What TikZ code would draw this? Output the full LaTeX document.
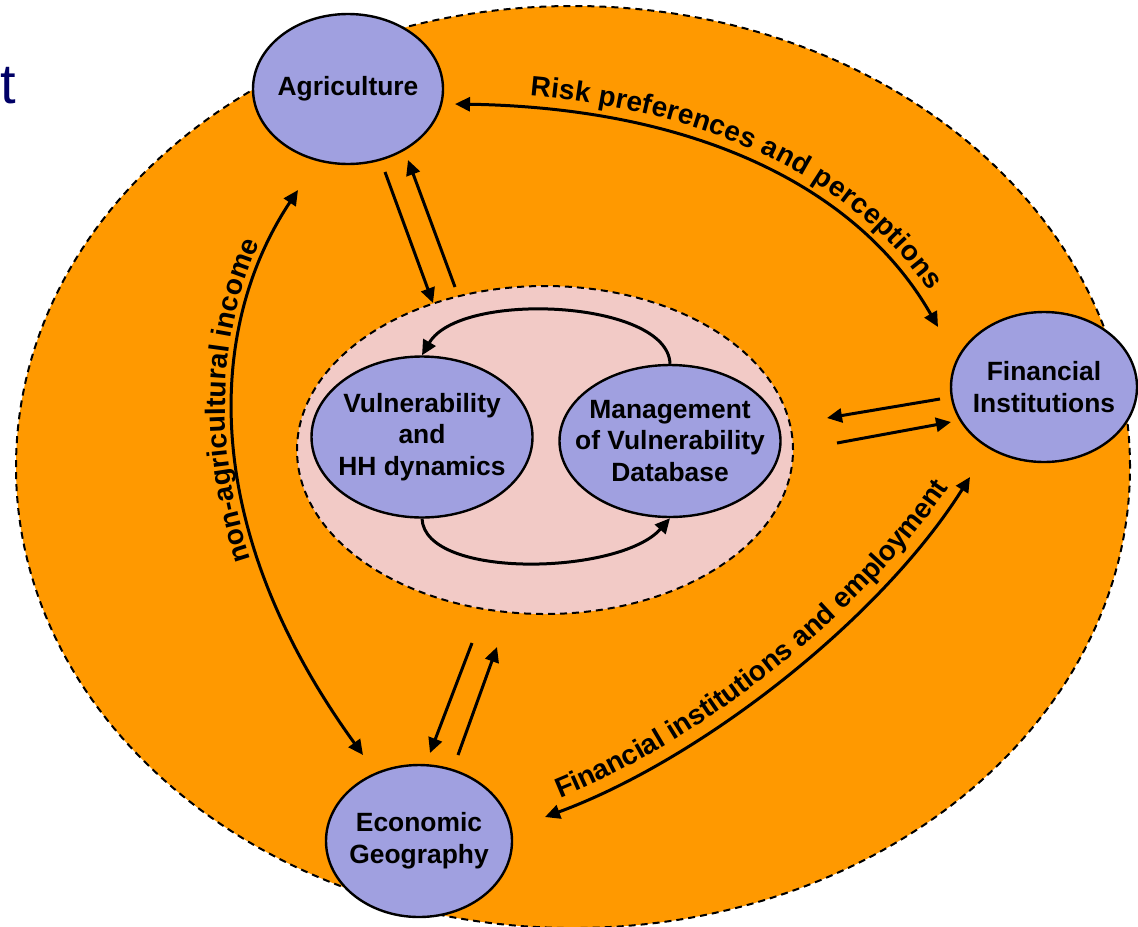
\documentclass[tikz,border=0pt]{standalone}
\usepackage{fontspec}
\setmainfont{Liberation Sans}
\usetikzlibrary{shapes.geometric,arrows.meta,decorations.text}

\definecolor{ringorange}{RGB}{255,153,0}
\definecolor{corepink}{RGB}{242,202,198}
\definecolor{hubblue}{RGB}{160,160,224}
\definecolor{navy}{RGB}{0,0,102}

\tikzset{
  zone/.style={ellipse,draw,dash pattern=on 3.5pt off 2.5pt,line width=1pt,inner sep=0pt},
  hub/.style={ellipse,draw,fill=hubblue,line width=1.2pt,inner sep=0pt},
  hubtext/.style={align=center,inner sep=0pt,font=\fontsize{13.2}{15.8}\selectfont\bfseries},
  link/.style={line width=1.5pt},
  along/.style={postaction={decorate},
    decoration={text along path,text align=center,raise=6pt,
      text={|\fontsize{14}{16}\selectfont\bfseries|#1}}}
}

\begin{document}
\begin{tikzpicture}[x=0.5pt,y=-0.5pt,>={Triangle[length=7.5pt,width=7pt]}]
    \useasboundingbox (0,0) rectangle (1138,926);
    \node[anchor=base west,inner sep=0pt,text=navy,font=\fontsize{28}{30}\selectfont] (title) at (0,103) {t};

    % outer ring and inner core
    \node[zone,fill=ringorange,minimum width=557pt,minimum height=461pt] (ring) at (573,467) {};
    \node[zone,fill=corepink,minimum width=248pt,minimum height=164pt] (core) at (545,450) {};

    % blocks
    \node[hub,minimum width=95pt,minimum height=75pt,
          label={[hubtext]center:Agriculture}] (agri) at (348,89) {};
    \node[hub,minimum width=93pt,minimum height=75pt,
          label={[hubtext]center:Financial\\Institutions}] (fin) at (1044,387) {};
    \node[hub,minimum width=93pt,minimum height=76pt,
          label={[hubtext]center:Economic\\Geography}] (geo) at (419,841) {};
    \node[hub,minimum width=110.5pt,minimum height=80.5pt,
          label={[hubtext]center:Vulnerability\\and\\HH dynamics}] (vuln) at (422,437) {};
    \node[hub,minimum width=110.5pt,minimum height=76pt,
          label={[hubtext]center:Management\\of Vulnerability\\Database}] (mgmt) at (670,441) {};

    % loose arrow ends
    \coordinate (ag-s1) at (385,172);  \coordinate (ag-t1) at (433,303);
    \coordinate (ag-s2) at (455,287);  \coordinate (ag-t2) at (408,160);
    \coordinate (geo-s1) at (472,643); \coordinate (geo-t1) at (430,753);
    \coordinate (geo-s2) at (458,755); \coordinate (geo-t2) at (497,647);
    \coordinate (fin-s1) at (940,399); \coordinate (fin-t1) at (827,418);
    \coordinate (fin-s2) at (837,443); \coordinate (fin-t2) at (951,422);
    \coordinate (risk-a) at (455,104); \coordinate (risk-b) at (938,327);
    \coordinate (inc-a) at (363,755);  \coordinate (inc-b) at (298,190);
    \coordinate (emp-a) at (545,817);  \coordinate (emp-b) at (970,477);

    % paired arrows into the core
    \draw[link,->] (ag-s1) -- (ag-t1);
    \draw[link,->] (ag-s2) -- (ag-t2);
    \draw[link,->] (geo-s1) -- (geo-t1);
    \draw[link,->] (geo-s2) -- (geo-t2);
    \draw[link,->] (fin-s1) -- (fin-t1);
    \draw[link,->] (fin-s2) -- (fin-t2);

    % loop inside the core
    \draw[link,->] (mgmt.north) .. controls (668,300) and (460,290) .. (vuln.north);
    \draw[link,->] (vuln.south) .. controls (425,580) and (620,575) .. (mgmt.south);

    % labelled links round the ring
    \draw[link,<->,along={Risk preferences and perceptions},
          decoration={text align={align=center,left indent=20pt}}]
      (risk-a) .. controls (700,108) and (860,190) .. (risk-b);
    \draw[link,<->,along={non-agricultural income},
          decoration={raise=4pt,text align={align=center,left indent=80pt}}]
      (inc-a) .. controls (200,530) and (205,330) .. (inc-b);
    \draw[link,<->,along={Financial institutions and employment}]
      (emp-a) .. controls (700,760) and (880,620) .. (emp-b);
\end{tikzpicture}
\end{document}
